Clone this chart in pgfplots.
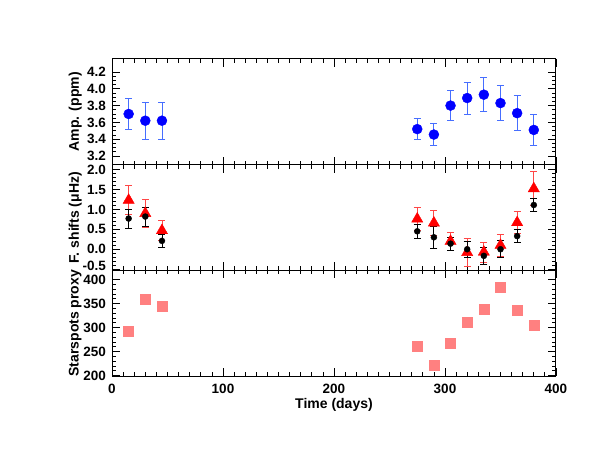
\documentclass[border=0pt]{standalone}
\usepackage{fontspec}
\setmainfont{Liberation Sans}
\usepackage{pgfplots}
\pgfplotsset{compat=1.18}
\definecolor{mblue}{RGB}{0,0,255}
\definecolor{eblue}{RGB}{70,110,255}
\definecolor{ered}{RGB}{255,70,70}
\definecolor{pinksq}{RGB}{255,128,128}
\pgfplotsset{panel/.style={
  scale only axis, width=444pt, height=105.7pt,
  xmin=0, xmax=400, xtick={0,100,200,300,400},
  minor x tick num=9,
  tick align=inside, major tick length=8pt, minor tick length=4pt,
  axis line style={line width=1pt},
  every tick/.style={black, line width=0.8pt},
  tick label style={font=\fontsize{13.5}{14}\selectfont\bfseries},
  yticklabel style={xshift=-2.5pt},
  xticklabel style={yshift=-4pt},
  label style={font=\fontsize{14}{16}\selectfont\bfseries},
  /pgf/number format/assume math mode=true,
  ylabel style={at={(axis description cs:-0.083,0.5)}, anchor=center},
  clip=false,
}}
\pgfplotsset{ebar/.style={error bars/.cd, y dir=both, y explicit,
  error bar style={line width=0.9pt, #1},
  error mark options={line width=0.9pt, mark size=3.5pt, rotate=90, #1}}}
\begin{document}
\begin{tikzpicture}
\useasboundingbox (0,0) rectangle (600pt,463pt);
% top panel
\begin{axis}[panel, at={(112pt,404pt)}, anchor=north west,
  ymin=3.096, ymax=4.355, ytick={3.2,3.4,3.6,3.8,4.0,4.2},
  yticklabels={3.2,3.4,3.6,3.8,4.0,4.2}, minor y tick num=3,
  xticklabels={}, ylabel={Amp. (ppm)}]
\addplot[only marks, mark=*, mark size=5pt, mark options={draw=mblue, fill=mblue}, ebar={eblue}]
 table[x=x, y=y, y error=e] {
x y e
15 3.70 0.19
30 3.62 0.22
45 3.62 0.22
275 3.52 0.125
290 3.455 0.13
305 3.80 0.18
320 3.89 0.19
335 3.93 0.20
350 3.83 0.21
365 3.71 0.21
380 3.51 0.18
};
\end{axis}
% middle panel
\begin{axis}[panel, at={(112pt,298.3pt)}, anchor=north west,
  ymin=-0.53, ymax=2.12, ytick={-0.5,0,0.5,1,1.5,2},
  yticklabels={\raisebox{-1.5pt}[0pt][0pt]{-0.5},0.0,0.5,1.0,1.5,2.0}, minor y tick num=4,
  xticklabels={}, ylabel={F. shifts (μHz)}]
\addplot[only marks, mark=triangle*, mark size=6.5pt, mark options={draw=red, fill=red}, ebar={ered}]
 table[x=x, y=y, y error=e] {
x y e
15 1.23 0.36
30 0.90 0.35
45 0.47 0.25
275 0.76 0.30
290 0.66 0.31
305 0.20 0.23
320 -0.08 0.36
335 -0.07 0.25
350 0.10 0.28
365 0.67 0.28
380 1.52 0.43
};
\addplot[only marks, mark=*, mark size=3pt, mark options={draw=black, fill=black}, ebar={black}]
 table[x=x, y=y, y error=e] {
x y e
15 0.77 0.24
30 0.82 0.24
45 0.21 0.17
275 0.45 0.17
290 0.30 0.27
305 0.14 0.16
320 0.00 0.20
335 -0.165 0.21
350 0.00 0.21
365 0.33 0.17
380 1.11 0.17
};
\end{axis}
% bottom panel
\begin{axis}[panel, at={(112pt,192.6pt)}, anchor=north west,
  ymin=199, ymax=419, ytick={200,250,300,350,400},
  yticklabels={200,250,300,350,400}, minor y tick num=4,
  xticklabels={0,100,200,300,400},
  xlabel={Time (days)}, ylabel={Starspots proxy},
  xlabel style={at={(axis description cs:0.5,-0.27)}, anchor=center}]
\addplot[only marks, mark=square*, mark size=5pt, mark options={draw=pinksq, fill=pinksq}]
 table[x=x, y=y] {
x y
15 291.7
30 358.7
45 344.8
275 261
290 221.8
305 266.8
320 310.4
335 338.6
350 385
365 336.5
380 305.4
};
\end{axis}
\end{tikzpicture}
\end{document}
